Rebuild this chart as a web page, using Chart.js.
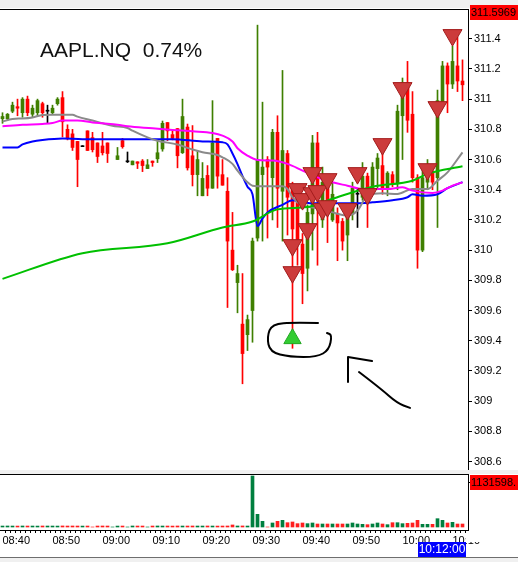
<!DOCTYPE html>
<html><head><meta charset="utf-8">
<script src="https://cdn.jsdelivr.net/npm/chart.js@4.4.0/dist/chart.umd.min.js"></script>
<style>
html,body{margin:0;padding:0;background:#fff;width:518px;height:562px;overflow:hidden;}
#c1{position:absolute;left:0;top:0;}
#c2{position:absolute;left:0;top:472px;}
</style></head><body>
<canvas id="c1" width="518" height="472"></canvas>
<canvas id="c2" width="518" height="90"></canvas>
<script>
// ---------- DATA ----------
const symbolTitle = 'AAPL.NQ  0.74%';
const timeLabels = ['08:40','08:50','09:00','09:10','09:20','09:30','09:40','09:50','10:00','10:10'];
const priceTicks = [308.6,308.8,309,309.2,309.4,309.6,309.8,310,310.2,310.4,310.6,310.8,311,311.2,311.4];
const priceMax = 311.5969;
const priceMin = 308.544;
const volumeMarker = 1131598;
const currentTime = '10:12:00';

// one candle per minute from 08:40 (index 0) to 10:12 (index 92)
const opens = [310.87,310.87,310.92,310.95,310.91,311.00,310.90,310.91,310.97,310.92,
 310.91,310.97,311.01,310.80,310.77,310.72,310.685,310.79,310.745,310.71,
 310.69,310.71,null,310.60,310.725,310.585,310.565,310.585,310.59,310.54,
 310.59,310.605,310.67,310.845,310.765,310.805,310.645,310.815,310.625,310.50,
 310.36,310.495,310.41,310.74,310.50,310.39,310.00,309.785,309.51,309.44,
 309.60,310.08,310.50,310.60,310.48,310.78,310.39,310.64,310.43,310.40,
 310.04,309.88,310.24,310.71,310.20,310.48,310.20,310.24,310.19,310.10,
 310.24,310.37,310.35,310.49,310.41,310.54,310.56,310.41,310.50,310.44,
 310.89,311.11,310.90,310.48,310.00,310.45,310.52,310.48,310.98,311.22,
 311.10,311.22,311.12];
const highs = [310.91,310.905,310.98,311.00,311.01,311.02,310.96,311.00,310.98,310.96,
 310.96,311.01,311.05,310.83,310.80,310.72,310.685,310.79,310.78,310.71,
 310.78,310.71,null,310.68,310.74,310.65,310.59,310.585,310.60,310.60,
 310.59,310.72,310.855,310.845,310.79,310.805,311.00,310.835,310.825,310.66,
 310.58,310.56,310.99,310.74,310.60,310.48,310.25,309.90,309.845,309.57,
 310.08,311.49,310.98,310.62,310.80,310.89,311.19,310.66,310.45,310.42,
 310.11,310.30,310.76,310.78,310.55,310.50,310.45,310.28,310.21,310.30,
 310.45,310.41,310.58,310.51,310.58,310.64,310.72,310.52,310.52,310.96,
 311.14,311.25,311.05,310.50,310.55,310.60,310.55,311.06,311.25,311.24,
 311.35,311.41,311.26];
const lows = [310.84,310.86,310.91,310.89,310.88,310.89,310.88,310.89,310.88,310.84,
 310.90,310.96,310.75,310.73,310.66,310.42,310.685,310.66,310.65,310.58,
 310.63,310.58,null,310.60,310.675,310.58,310.565,310.54,310.52,310.54,
 310.555,310.58,310.655,310.725,310.73,310.545,310.64,310.53,310.425,310.36,
 310.36,310.36,310.41,310.41,310.43,309.62,309.865,309.585,309.115,309.335,
 309.39,310.06,310.06,310.08,310.20,310.15,310.06,310.10,309.35,309.90,
 309.645,309.73,310.00,309.90,310.15,310.05,310.19,309.93,310.00,309.93,
 310.20,310.15,310.33,310.15,310.38,310.40,310.37,310.36,310.42,310.40,
 310.60,310.78,310.45,309.88,309.99,310.40,310.40,310.15,310.95,310.91,
 311.07,311.05,310.99];
const closes = [310.885,310.90,310.96,310.94,311.00,310.91,310.94,310.99,310.91,310.92,
 310.94,311.00,310.85,310.74,310.68,310.60,310.685,310.66,310.665,310.62,
 310.645,310.64,null,310.625,310.685,310.585,310.59,310.575,310.56,310.565,
 310.58,310.645,310.84,310.79,310.74,310.625,310.885,310.545,310.50,310.60,
 310.475,310.41,310.71,310.49,310.43,310.06,309.87,309.845,309.315,309.54,
 310.06,310.60,310.55,310.55,310.78,310.41,310.66,310.35,310.14,310.06,
 309.845,310.25,310.71,310.41,310.45,310.31,310.37,310.18,310.06,310.24,
 310.41,310.37,310.49,310.41,310.55,310.61,310.41,310.51,310.44,310.92,
 311.11,310.86,310.48,310.00,310.48,310.55,310.45,310.99,311.22,311.10,
 311.25,311.12,311.095];
const volumes = [25000,26000,25000,24000,26000,25000,25000,24000,26000,25000,
 25000,24000,27000,25000,26000,25000,24000,25000,0,25000,
 26000,25000,0,24000,25000,0,26000,25000,25000,0,
 25000,26000,25000,25000,24000,26000,25000,25000,26000,25000,
 25000,26000,25000,24000,25000,26000,52000,26000,27000,25000,
 1312000,326000,146000,0,103000,146000,171000,111000,129000,86000,
 103000,86000,103000,77000,77000,77000,77000,77000,77000,77000,
 103000,77000,69000,60000,77000,103000,77000,60000,111000,111000,
 86000,94000,103000,171000,69000,69000,69000,214000,171000,103000,
 120000,77000,77000];

// moving averages, read at selected candles: [candle index, price]
const maGreen = [[0,309.81],[16,309.98],[33,310.045],[44,310.15],[50,310.19],[55,310.27],
 [61,310.285],[66,310.34],[74,310.42],[82,310.46],[85,310.505],[92,310.555]];
const maBlue = [[0,310.68],[3,310.68],[4,310.70],[6,310.72],[8,310.73],[12,310.74],[16,310.735],
 [25,310.735],[34,310.735],[40,310.72],[44,310.714],[45,310.70],[46,310.64],[47,310.57],
 [48,310.49],[49,310.42],[50,310.37],[51,310.16],[52,310.21],[53,310.25],[56,310.30],
 [58,310.33],[60,310.32],[62,310.31],[70,310.31],[74,310.317],[78,310.33],[81,310.35],
 [82,310.37],[84,310.36],[87,310.37],[89,310.41],[92,310.45]];
const maMagenta = [[0,310.82],[4,310.83],[8,310.836],[10,310.842],[12,310.858],[15,310.858],
 [18,310.846],[20,310.84],[23,310.831],[25,310.82],[30,310.807],[34,310.796],[38,310.787],
 [42,310.776],[44,310.758],[46,310.72],[47,310.675],[49,310.626],[51,310.597],[54,310.593],
 [57,310.571],[60,310.527],[63,310.482],[66,310.449],[69,310.427],[72,310.405],[77,310.405],
 [80,310.416],[82,310.394],[86,310.379],[88,310.394],[90,310.427],[92,310.449]];
const maGray = [[0,310.851],[2,310.869],[4,310.872],[6,310.879],[8,310.895],[10,310.897],
 [14,310.897],[15,310.884],[18,310.858],[20,310.84],[22,310.824],[25,310.809],[26,310.791],
 [29,310.747],[31,310.725],[35,310.699],[38,310.666],[40,310.648],[43,310.63],[44,310.615],
 [46,310.571],[47,310.527],[49,310.449],[50,310.427],[52,310.423],[56,310.423],[57,310.405],
 [58,310.35],[60,310.295],[62,310.283],[64,310.273],[66,310.25],[69,310.228],[71,310.262],
 [73,310.361],[76,310.376],[79,310.372],[82,310.405],[85,310.405],[87,310.46],[89,310.515],
 [92,310.648]];

// signal markers: [candle index, price]
const sellSignals = [[58,310.033],[58,309.854],[59,310.404],[60,310.338],[61,310.139],[62,310.51],
 [62,310.377],[63,310.391],[64,310.272],[65,310.47],[65,310.291],[69,310.272],[71,310.51],
 [73,310.371],[76,310.702],[80,311.073],[85,310.536],[87,310.947],[90,311.424]];
const buySignals = [[58,309.414]];

// hand-drawn annotation strokes, in [candle index, price]
const noteCircle = [[63.1,309.517],[58.5,309.521],[53.9,309.511],[52.9,309.425],[53.5,309.325],
 [57.5,309.292],[62.9,309.292],[65.3,309.339],[65.9,309.438],[64.9,309.451]];
const noteArrowHead = [[69.1,309.127],[69.1,309.292],[73.9,309.266]];
const noteArrowTail = [[71.3,309.193],[75.5,309.087],[78.9,308.988],[81.5,308.955]];

// ---------- STYLE ----------
const UP = '#3f7f00', DOWN = '#ff0000', FLAT = '#000000';
const VUP = '#007f3f', VDOWN = '#ff1f1f';
const FONT = '"Liberation Sans", Arial, sans-serif';
const idx = opens.map((_, i) => i);
const valid = idx.filter(i => opens[i] !== null);
const dir = i => closes[i] > opens[i] ? 1 : (closes[i] < opens[i] ? -1 : 0);
const cColor = i => dir(i) > 0 ? UP : (dir(i) < 0 ? DOWN : FLAT);
const toXY = arr => arr.map(([x, y]) => ({x, y}));
const fixWidth = s => { s.width = 50; s.paddingTop = 0; s.paddingBottom = 0; };

function strokePath(ctx, sx, sy, pts, smooth) {
  const p = pts.map(([a, b]) => [sx.getPixelForValue(a), sy.getPixelForValue(b)]);
  ctx.beginPath();
  ctx.moveTo(p[0][0], p[0][1]);
  if (smooth && p.length > 2) {
    for (let k = 1; k < p.length - 1; k++) {
      const mx = (p[k][0] + p[k+1][0]) / 2, my = (p[k][1] + p[k+1][1]) / 2;
      ctx.quadraticCurveTo(p[k][0], p[k][1], mx, my);
    }
    ctx.lineTo(p[p.length-1][0], p[p.length-1][1]);
  } else {
    for (let k = 1; k < p.length; k++) ctx.lineTo(p[k][0], p[k][1]);
  }
  ctx.stroke();
}

const overlay1 = {
  id: 'overlay1',
  beforeDraw(chart) {
    const ctx = chart.ctx;
    ctx.save();
    ctx.fillStyle = '#fff';
    ctx.fillRect(0, 0, chart.width, chart.height);
    ctx.restore();
  },
  afterDraw(chart) {
    const ctx = chart.ctx, a = chart.chartArea;
    const sx = chart.scales.x, sy = chart.scales.y;
    ctx.save();
    ctx.fillStyle = '#f0f0f0';
    ctx.fillRect(0, 0, chart.width, 8);
    ctx.fillRect(0, a.bottom, chart.width, chart.height - a.bottom);
    ctx.fillStyle = '#000';
    ctx.fillRect(0, a.top, a.right + 1, 1);
    ctx.fillStyle = '#ff0000';
    ctx.fillRect(a.right + 2, 5, chart.width - a.right - 2, 15);
    ctx.fillStyle = '#000';
    ctx.font = '11px ' + FONT;
    ctx.textBaseline = 'middle';
    ctx.textAlign = 'left';
    ctx.fillText(priceMax.toFixed(4), a.right + 3, 13);
    ctx.font = '21px ' + FONT;
    ctx.textBaseline = 'alphabetic';
    ctx.fillStyle = '#111';
    ctx.fillText(symbolTitle, 40, 57);
    ctx.strokeStyle = '#000';
    ctx.lineWidth = 2;
    ctx.lineCap = 'round';
    ctx.lineJoin = 'round';
    strokePath(ctx, sx, sy, noteCircle, true);
    strokePath(ctx, sx, sy, noteArrowHead, false);
    strokePath(ctx, sx, sy, noteArrowTail, true);
    ctx.restore();
  }
};

new Chart(document.getElementById('c1'), {
  type: 'bar',
  data: {
    datasets: [
      { type: 'scatter', data: toXY(sellSignals), pointStyle: 'triangle', rotation: 180,
        radius: 11, backgroundColor: '#cc3b3b', borderColor: '#a31c1c', borderWidth: 1, order: 0 },
      { type: 'scatter', data: toXY(buySignals), pointStyle: 'triangle', rotation: 0,
        radius: 10, backgroundColor: '#33cc33', borderColor: '#22a822', borderWidth: 1, order: 0 },
      { type: 'line', data: toXY(maGreen), borderColor: '#00c000', borderWidth: 2,
        pointRadius: 0, cubicInterpolationMode: 'monotone', order: 1 },
      { type: 'line', data: toXY(maMagenta), borderColor: '#ff00ff', borderWidth: 2,
        pointRadius: 0, cubicInterpolationMode: 'monotone', order: 2 },
      { type: 'line', data: toXY(maGray), borderColor: '#8a8a8a', borderWidth: 2,
        pointRadius: 0, cubicInterpolationMode: 'monotone', order: 3 },
      { type: 'line', data: toXY(maBlue), borderColor: '#0000ff', borderWidth: 2,
        pointRadius: 0, cubicInterpolationMode: 'monotone', order: 4 },
      { type: 'bar', data: valid.map(i => ({x: i, y: [opens[i], closes[i]]})),
        barThickness: 3, minBarLength: 1, grouped: false,
        backgroundColor: c => cColor(valid[c.dataIndex]), order: 5 },
      { type: 'bar', data: valid.map(i => ({x: i, y: [lows[i], highs[i]]})),
        barThickness: 1, minBarLength: 1, grouped: false,
        backgroundColor: c => cColor(valid[c.dataIndex]), order: 6 }
    ]
  },
  options: {
    responsive: false, animation: false,
    layout: { autoPadding: false, padding: { top: 9, bottom: 2, left: 0, right: 0 } },
    plugins: { legend: { display: false }, tooltip: { enabled: false } },
    scales: {
      x: { type: 'linear', min: -0.5, max: 93.1, offset: false, display: false },
      y: { type: 'linear', position: 'right', min: priceMin, max: priceMax,
        afterFit: fixWidth,
        afterBuildTicks: s => { s.ticks = priceTicks.map(v => ({value: v})); },
        grid: { drawOnChartArea: false, tickLength: 4, color: '#000' },
        border: { display: true, color: '#000', width: 1 },
        ticks: { color: '#000', padding: 2, font: { family: FONT, size: 11 },
          callback: v => String(+(+v).toFixed(1)) } }
    }
  },
  plugins: [overlay1]
});

const overlay2 = {
  id: 'overlay2',
  beforeDraw(chart) {
    const ctx = chart.ctx;
    ctx.save(); ctx.fillStyle = '#fff'; ctx.fillRect(0, 0, chart.width, chart.height); ctx.restore();
  },
  afterDraw(chart) {
    const ctx = chart.ctx, a = chart.chartArea;
    const sy = chart.scales.y;
    ctx.save();
    ctx.fillStyle = '#f0f0f0';
    ctx.fillRect(0, 0, chart.width, 2);
    ctx.fillStyle = '#000';
    ctx.fillRect(0, a.top, a.right + 1, 1);
    const my = sy.getPixelForValue(volumeMarker);
    ctx.fillStyle = '#ff0000';
    ctx.fillRect(a.right + 2, my - 8, chart.width - a.right - 2, 15);
    ctx.fillStyle = '#000';
    ctx.font = '11px ' + FONT;
    ctx.textBaseline = 'middle';
    ctx.textAlign = 'left';
    ctx.fillText(String(volumeMarker) + '.', a.right + 3, my);
    ctx.fillStyle = '#fff';
    ctx.fillRect(a.right - 2, a.bottom + 1, chart.width - a.right + 2, 11);
    ctx.fillStyle = '#0000ff';
    ctx.fillRect(a.right - 50, a.bottom + 12, 48, 15);
    ctx.fillStyle = '#fff';
    ctx.font = '12px ' + FONT;
    ctx.textAlign = 'center';
    ctx.fillText(currentTime, a.right - 26, a.bottom + 20);
    ctx.fillStyle = '#6e6e6e';
    ctx.fillRect(0, a.bottom + 27, chart.width, 1);
    ctx.fillStyle = '#f0f0f0';
    ctx.fillRect(0, a.bottom + 28, chart.width, chart.height);
    ctx.restore();
  }
};

new Chart(document.getElementById('c2'), {
  type: 'bar',
  data: {
    datasets: [{ data: idx.map(i => ({x: i, y: volumes[i]})), barThickness: 3,
      backgroundColor: c => (opens[c.dataIndex] !== null && dir(c.dataIndex) < 0) ? VDOWN : VUP }]
  },
  options: {
    responsive: false, animation: false,
    layout: { autoPadding: false, padding: { top: 2, left: 0, right: 0, bottom: 0 } },
    plugins: { legend: { display: false }, tooltip: { enabled: false } },
    scales: {
      x: { type: 'linear', min: -0.5, max: 93.1, offset: false,
        afterFit: s => { s.height = 32; s.paddingLeft = 0; s.paddingRight = 0; },
        afterBuildTicks: s => { s.ticks = idx.map(v => ({value: v})); },
        grid: { drawOnChartArea: false, tickLength: 3, color: '#000' },
        border: { display: true, color: '#000' },
        ticks: { autoSkip: false, maxRotation: 0, minRotation: 0, align: 'start', padding: 1,
          color: '#000', font: { family: FONT, size: 11 },
          callback: v => (v % 10 === 0 ? timeLabels[v / 10] : '') } },
      y: { type: 'linear', position: 'right', min: -77154, max: 1363054,
        afterFit: fixWidth,
        afterBuildTicks: s => { s.ticks = [{value: volumeMarker}]; },
        grid: { drawOnChartArea: false, tickLength: 4, color: '#000' },
        border: { display: true, color: '#000' },
        ticks: { display: false } }
    }
  },
  plugins: [overlay2]
});
</script>
</body></html>
